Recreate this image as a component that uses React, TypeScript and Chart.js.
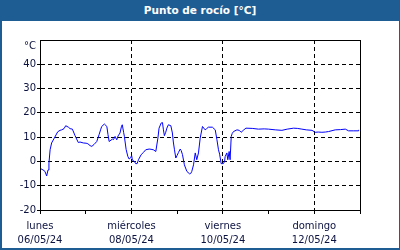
import React, { useEffect, useRef } from "react";
import { Chart, registerables } from "chart.js";

Chart.register(...registerables);

const TITLE = "Punto de rocío [°C]";
const UNIT = "°C";

// hours since Monday 06/05/24 00:00
const hours = [
  0.4, 1.6, 2.6, 3.5, 4.2, 4.7, 5.3, 6.1, 7.5, 9.3, 10.5, 11.4, 12.6, 13.5, 14.9, 15.8, 17.0, 18.4, 20.1, 21.0,
  22.8, 24.2, 25.1, 26.3, 27.2, 28.4, 29.8, 31.0, 31.8, 32.4, 33.8, 35.1, 35.7, 36.3, 38.0, 38.6, 39.4, 40.3,
  41.0, 42.0, 42.8, 43.2, 43.9, 44.3, 45.2, 46.1, 46.8, 47.6, 48.1, 48.5, 49.6, 50.2, 51.0, 51.7, 53.1, 54.3,
  55.5, 57.3, 58.3, 59.5, 60.8, 61.9, 62.5, 63.6, 64.3, 64.8, 65.3, 66.0, 66.6, 67.4, 68.7, 69.5, 70.0, 70.6,
  71.3, 72.0, 72.7, 73.6, 74.1, 74.8, 75.8, 77.1, 78.5, 79.1, 79.7, 80.6, 81.5, 82.3, 83.2, 84.1, 85.3, 86.7,
  87.5, 88.4, 90.5, 92.0, 92.9, 93.7, 94.3, 95.1, 96.3, 96.9, 97.2, 98.1, 98.6, 99.3, 99.8, 100.4, 100.9, 101.6,
  103.4, 104.6, 105.6, 106.7, 108.1, 111.4, 114.7, 117.7, 120.0, 123.5, 127.0, 129.8, 133.1, 135.1, 137.5,
  139.8, 142.8, 144.5, 146.1, 148.0, 149.8, 151.5, 155.0, 157.7, 160.3, 162.0, 164.5, 167.0, 167.3,
];

const dewPoint = [
  -3.0, -3.5, -4.1, -6.0, -3.5, -0.7, 4.8, 7.6, 9.6, 12.2, 12.8, 13.0, 13.5, 14.7, 14.1, 13.5, 13.3, 10.6, 7.8, 8.0,
  7.6, 7.5, 7.3, 6.5, 6.2, 7.0, 8.2, 11.0, 13.0, 14.4, 15.4, 14.4, 11.0, 8.2, 9.2, 9.0, 10.3, 8.9,
  10.5, 11.7, 14.5, 15.1, 12.0, 10.3, 5.0, 2.1, 1.0, 1.5, 2.5, 0.5, 0.0, -0.9, -0.9, 0.7, 2.8, 3.7,
  4.8, 5.1, 5.0, 4.8, 4.1, 9.6, 13.7, 15.8, 16.0, 13.0, 10.6, 12.0, 13.7, 15.1, 14.7, 11.7, 8.0, 4.8,
  1.4, 2.5, 3.7, 5.1, 4.5, 2.8, -1.4, -4.1, -5.1, -5.0, -4.1, -1.4, 3.5, 0.7, 3.5, 9.6, 14.4, 13.0,
  13.5, 14.1, 14.1, 13.0, 8.9, 4.8, 3.0, -0.9, -0.9, 0.0, 2.0, 3.5, 0.7, 4.1, 0.7, 10.3, 11.5, 12.3,
  13.0, 12.8, 12.0, 12.8, 13.7, 13.6, 13.3, 13.4, 13.3, 13.0, 12.8, 13.3, 13.7, 13.6, 13.3,
  13.0, 12.8, 12.0, 12.1, 12.0, 12.1, 12.3, 13.0, 13.1, 13.3, 12.6, 12.6, 12.6, 13.0,
];

const dayNames = ["lunes", "miércoles", "viernes", "domingo"];
const dayDates = ["06/05/24", "08/05/24", "10/05/24", "12/05/24"];
const dayHours = [0, 48, 96, 144];

const BLUE = "#1e5d94";
const TEXT = "#0c1240";

export default function App() {
  const ref = useRef<HTMLCanvasElement | null>(null);

  useEffect(() => {
    document.body.style.margin = "0";
    const canvas = ref.current;
    if (!canvas) return;

    const frame = {
      id: "plotFrame",
      afterDraw(chart: any) {
        const { ctx, chartArea } = chart;
        const l = Math.round(chartArea.left) + 0.5;
        const t = Math.round(chartArea.top) + 0.5;
        const r = Math.round(chartArea.right) + 0.5;
        const b = Math.round(chartArea.bottom) + 0.5;
        ctx.save();
        ctx.strokeStyle = "#000";
        ctx.lineWidth = 1;
        ctx.setLineDash([]);
        ctx.strokeRect(l, t, r - l, b - t);
        ctx.restore();
      },
    };

    const chart = new Chart(canvas, {
      type: "line",
      data: {
        datasets: [
          {
            data: hours.map((h, i) => ({ x: h, y: dewPoint[i] })),
            borderColor: "#0000ff",
            borderWidth: 1,
            pointRadius: 0,
            tension: 0,
            fill: false,
          },
        ],
      },
      options: {
        animation: false,
        responsive: false,
        devicePixelRatio: 1,
        layout: { padding: { left: 0, right: 40, top: 40, bottom: 0 } },
        plugins: { legend: { display: false }, tooltip: { enabled: false }, title: { display: false } },
        scales: {
          x: {
            type: "linear",
            min: 0,
            max: 168,
            afterFit: (s: any) => {
              s.height = 40;
            },
            ticks: {
              stepSize: 24,
              autoSkip: false,
              maxRotation: 0,
              padding: 5,
              color: TEXT,
              font: { family: "DejaVu Sans", size: 10, lineHeight: 1.4 },
              callback: (v: any) => {
                const i = dayHours.indexOf(Number(v));
                return i >= 0 ? [dayNames[i], dayDates[i]] : "";
              },
            },
            grid: {
              color: (c: any) => (c.tick && dayHours.indexOf(c.tick.value) > 0 ? "#000" : "rgba(0,0,0,0)"),
              tickColor: "#000",
              tickLength: 4,
              tickBorderDash: [],
              lineWidth: 1,
            },
            border: { display: true, color: "#000", width: 1, dash: [4, 3] },
          },
          y: {
            min: -20,
            max: 50,
            afterFit: (s: any) => {
              s.width = 40;
            },
            ticks: {
              stepSize: 10,
              autoSkip: false,
              padding: 1,
              color: TEXT,
              font: { family: "DejaVu Sans", size: 10, lineHeight: 1.2 },
              callback: (v: any) => (Number(v) === 50 ? ["", UNIT] : String(v)),
            },
            grid: {
              color: (c: any) =>
                c.tick && c.tick.value > -20 && c.tick.value < 50 ? "#000" : "rgba(0,0,0,0)",
              tickColor: (c: any) => (c.tick && c.tick.value === 50 ? "rgba(0,0,0,0)" : "#000"),
              tickLength: 3,
              tickBorderDash: [],
              lineWidth: 1,
            },
            border: { display: true, color: "#000", width: 1, dash: [4, 3] },
          },
        },
      },
      plugins: [frame],
    });

    return () => chart.destroy();
  }, []);

  return (
    <div style={{ position: "fixed", left: 0, top: 0, width: 400, height: 250, background: "#fff" }}>
      <canvas ref={ref} width={400} height={250} style={{ position: "absolute", left: 0, top: 0, width: 400, height: 250 }} />
      <div
        style={{
          position: "absolute",
          left: 0,
          top: 0,
          width: 400,
          height: 21,
          background: BLUE,
          color: "#fff",
          fontFamily: "DejaVu Sans",
          fontWeight: "bold",
          fontSize: "10.5px",
          lineHeight: "21px",
          textAlign: "center",
        }}
      >
        {TITLE}
      </div>
      <div
        style={{
          position: "absolute",
          left: 0,
          top: 0,
          width: 400,
          height: 250,
          boxSizing: "border-box",
          borderStyle: "solid",
          borderColor: BLUE,
          borderWidth: "1px 1px 2px 2px",
          pointerEvents: "none",
        }}
      />
    </div>
  );
}
